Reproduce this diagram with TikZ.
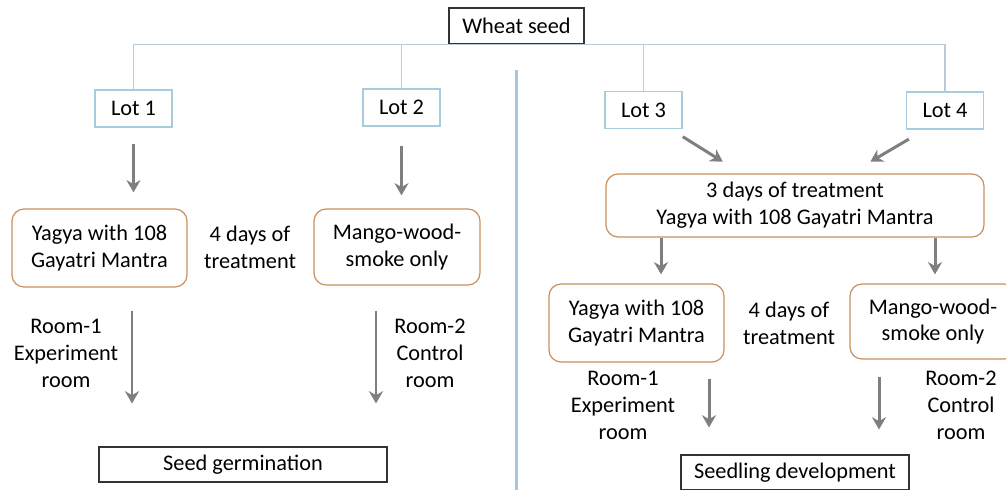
\documentclass[tikz,border=0pt]{standalone}
\usepackage{fontspec}
\setmainfont{Carlito}
\usetikzlibrary{calc,arrows.meta}
\definecolor{lotblue}{RGB}{169,203,222}
\definecolor{treeline}{RGB}{185,205,216}
\definecolor{sepblue}{RGB}{167,197,220}
\definecolor{boxorange}{RGB}{201,144,94}
\definecolor{arrgray}{RGB}{127,127,127}
\begin{document}
\begin{tikzpicture}[
    every node/.style={font=\fontsize{12.7}{15.3}\selectfont, align=center, inner sep=0pt},
    lotbox/.style={draw=lotblue, line width=0.6pt, minimum width=1.54cm, minimum height=0.74cm},
    plainbox/.style={draw=black!80, line width=0.6pt, minimum height=0.7cm},
    treatbox/.style={draw=boxorange, line width=0.7pt, rounded corners=0.24cm},
    arr/.style={draw=arrgray, line width=1.7pt, -{Stealth[length=7pt,width=8pt]}}
]
\useasboundingbox (0,0) rectangle (20.12,-9.78);
% top of the tree
\node[plainbox, minimum width=2.7cm, minimum height=0.72cm] (wheat) at (10.33,-0.52) {Wheat seed};
\node[lotbox] (lot1) at (2.67,-2.17) {Lot 1};
\node[lotbox] (lot2) at (8.03,-2.15) {Lot 2};
\node[lotbox] (lot3) at (12.87,-2.2) {Lot 3};
\node[lotbox] (lot4) at (18.9,-2.21) {Lot 4};
\draw[treeline, line width=0.6pt] (lot1.north) |- (wheat.south) -| (lot4.north);
\draw[treeline, line width=0.6pt] (lot2.north) -- (lot2.north |- wheat.south);
\draw[treeline, line width=0.6pt] (lot3.north) -- (lot3.north |- wheat.south);
\draw[sepblue, line width=1.7pt] (10.32,-1.4) -- (10.32,-9.9);

% left half
\node[treatbox, minimum width=3.5cm, minimum height=1.56cm] (yag1) at (1.99,-4.96) {Yagya with 108\\Gayatri Mantra};
\node[treatbox, minimum width=3.32cm, minimum height=1.52cm] (mango1) at (7.94,-4.94) {Mango-wood-\\smoke only};
\node (days1) at (5.0,-4.94) {4 days of\\treatment};
\node (room1) at (1.32,-7.06) {Room-1\\Experiment\\room};
\node (room2) at (8.6,-7.06) {Room-2\\Control\\room};
\node[plainbox, minimum width=5.76cm] (germ) at (4.86,-9.29) {Seed germination};
\coordinate (a1) at (2.64,0);
\coordinate (a2) at (7.52,0);
\draw[arr, shorten <=0.32cm, shorten >=0.32cm] (lot1.south) -- (lot1.south |- yag1.north);
\draw[arr, shorten <=0.38cm, shorten >=0.26cm] (lot2.south) -- (lot2.south |- mango1.north);
\draw[arr, shorten <=0.46cm, shorten >=0.86cm] (yag1.south -| a1) -- (germ.north -| a1);
\draw[arr, shorten <=0.5cm, shorten >=0.86cm] (mango1.south -| a2) -- (germ.north -| a2);

% right half
\node[treatbox, minimum width=7.56cm, minimum height=1.26cm] (big) at (15.9,-4.11) {3 days of treatment\\Yagya with 108 Gayatri Mantra};
\node[treatbox, minimum width=3.5cm, minimum height=1.56cm] (yag2) at (12.73,-6.46) {Yagya with 108\\Gayatri Mantra};
\node[treatbox, minimum width=3.32cm, minimum height=1.5cm] (mango2) at (18.66,-6.43) {Mango-wood-\\smoke only};
\node (days2) at (15.78,-6.46) {4 days of\\treatment};
\node (room3) at (12.46,-8.1) {Room-1\\Experiment\\room};
\node (room4) at (19.22,-8.1) {Room-2\\Control\\room};
\node[plainbox, minimum width=4.56cm] (seedl) at (15.9,-9.45) {Seedling development};
\coordinate (b1) at (13.22,0);
\coordinate (b2) at (18.7,0);
\coordinate (b3) at (14.18,0);
\coordinate (b4) at (17.58,0);
\draw[arr, shorten <=0.29cm, shorten >=0.44cm] ($(lot3.south)+(0.54,0)$) -- ($(big.north)+(-1.07,0)$);
\draw[arr, shorten <=0.38cm, shorten >=0.46cm] ($(lot4.south)+(-0.395,0)$) -- ($(big.north)+(1.11,0)$);
\draw[arr, shorten >=0.18cm] (big.south -| b1) -- (yag2.north -| b1);
\draw[arr, shorten >=0.18cm] (big.south -| b2) -- (mango2.north -| b2);
\draw[arr, shorten <=0.32cm, shorten >=0.54cm] (yag2.south -| b3) -- (seedl.north -| b3);
\draw[arr, shorten <=0.34cm, shorten >=0.5cm] (mango2.south -| b4) -- (seedl.north -| b4);
\end{tikzpicture}
\end{document}
